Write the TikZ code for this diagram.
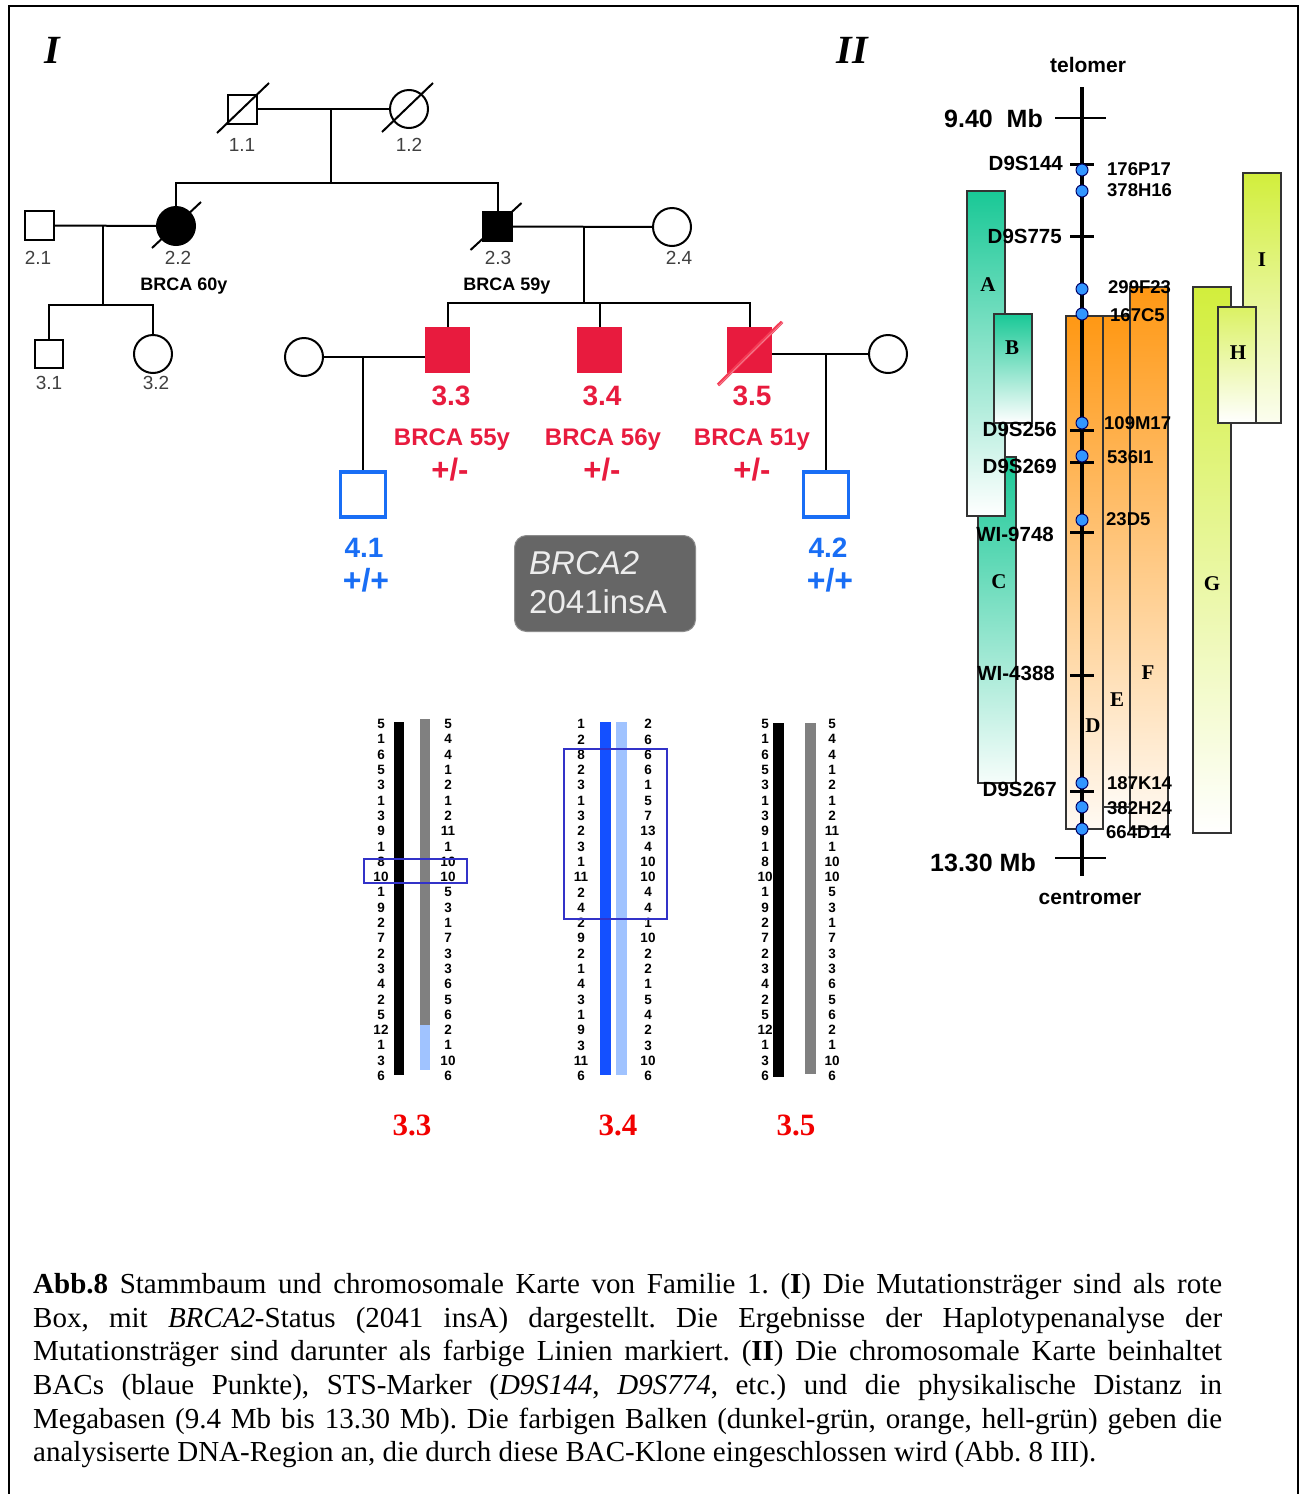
\documentclass[tikz,border=0pt]{standalone}
\usepackage{fontspec}
\setmainfont{Liberation Serif}
\newfontfamily\arial{Liberation Sans}
\usetikzlibrary{calc}
\newcommand\pxs[1]{\fontsize{#1}{#1}\selectfont}
\definecolor{pedred}{RGB}{232,27,62}
\definecolor{slashred}{RGB}{245,60,85}
\definecolor{pedblue}{RGB}{25,110,245}
\definecolor{boxblue}{RGB}{50,50,200}
\definecolor{hapblue}{RGB}{20,80,255}
\definecolor{haplight}{RGB}{160,195,255}
\definecolor{hapgray}{RGB}{128,128,128}
\definecolor{bacteal}{RGB}{25,200,150}
\definecolor{bacorange}{RGB}{255,152,20}
\definecolor{baclime}{RGB}{210,238,60}
\definecolor{dotblue}{RGB}{50,150,255}
\definecolor{mutgray}{RGB}{102,102,102}
\frenchspacing
\begin{document}
\begin{tikzpicture}[x=1pt,y=-1pt,
  male/.style={rectangle,draw,line width=2,minimum size=29,inner sep=0,fill=white},
  female/.style={circle,draw,line width=2,minimum size=38,inner sep=0,fill=white},
  rel/.style={line width=2},
  redsq/.style={rectangle,fill=pedred,minimum width=45,minimum height=46,inner sep=0},
  bluesq/.style={rectangle,draw=pedblue,line width=3.2,fill=white,minimum size=45,inner sep=0},
  idlab/.style={font=\arial\pxs{19},text=black!75,text depth=0pt,inner sep=0},
  agelab/.style={font=\arial\bfseries\pxs{18},text depth=0pt,inner sep=0},
  rednum/.style={font=\arial\bfseries\pxs{28},text=pedred,text depth=0pt,inner sep=0},
  redgen/.style={font=\arial\bfseries\pxs{31},text=pedred,text depth=0pt,inner sep=0},
  redage/.style={font=\arial\bfseries\pxs{24},text=pedred,text depth=0pt,inner sep=0},
  bluenum/.style={font=\arial\bfseries\pxs{28},text=pedblue,text depth=0pt,inner sep=0},
  bluegen/.style={font=\arial\bfseries\pxs{32},text=pedblue,text depth=0pt,inner sep=0},
  hap/.style={font=\arial\bfseries\pxs{13.5},text depth=0pt,inner sep=0},
  hapbox/.style={draw=boxblue,line width=2.5},
  haplab/.style={font=\bfseries\pxs{31},text=red!95!black,text depth=0pt,inner sep=0},
  mk/.style={font=\arial\bfseries\pxs{20.5},text depth=0pt,inner sep=0,anchor=east},
  bac/.style={font=\arial\bfseries\pxs{18.5},text depth=0pt,inner sep=0,anchor=west},
  mb/.style={font=\arial\bfseries\pxs{25},text depth=0pt,inner sep=0,anchor=east},
  endlab/.style={font=\arial\bfseries\pxs{21},text depth=0pt,inner sep=0},
  barlab/.style={font=\bfseries\pxs{21},text depth=0pt,inner sep=0},
  bar/.style={draw=black!80,line width=1.3},
  dot/.style={circle,draw=black!60!blue,line width=1,fill=dotblue,minimum size=12,inner sep=0},
  mtick/.style={line width=3},
  captionline/.style={font=\pxs{29},anchor=base west,inner sep=0},
  roman/.style={font=\bfseries\itshape\pxs{40},inner sep=0,text depth=0pt}
]
\useasboundingbox (0,0) rectangle (1303,1494);
\fill[white] (0,0) rectangle (1303,1494);
\draw[line width=2] (9,1494) -- (9,6) -- (1298,6) -- (1298,1494);

\node[roman] (romI) at (52,50) {I};
\node[roman] (romII) at (852,50) {II};

% ---------------- pedigree ----------------
\node[male] (p11) at (242,109) {};
\node[female] (p12) at (409,109) {};
\draw[rel] (p11) -- (p12);
\coordinate (m1) at (331,109);
\coordinate (s1) at (331,183);
\node[male] (p21) at (39.5,225.5) {};
\node[female,fill=black] (p22) at (176,226) {};
\node[male,fill=black] (p23) at (497.5,226.5) {};
\node[female] (p24) at (672,227) {};
\draw[rel] (m1) -- (s1);
\draw[rel] (p22.north) |- (s1) -| (p23.north);
\draw[rel] (p21) -- (p22);
\draw[rel] (p23) -- (p24);
\coordinate (m2) at (103,226);
\coordinate (s2) at (103,305);
\node[male,minimum size=28] (p31) at (49,354) {};
\node[female] (p32) at (153,354) {};
\draw[rel] (m2) -- (s2);
\draw[rel] (p31.north) |- (s2) -| (p32.north);
\coordinate (m3) at (584,227);
\coordinate (s3) at (584,303);
\node[redsq] (p33) at (447.5,350) {};
\node[redsq] (p34) at (599.5,350) {};
\node[redsq] (p35) at (749.5,350) {};
\draw[rel] (m3) -- (s3);
\draw[rel] (p33.north) |- (s3) -| (p35.north);
\draw[rel] (p34.north) -- (p34.north |- s3);
\node[female] (pw1) at (304,357) {};
\node[female] (pw2) at (888,354) {};
\draw[rel] (pw1.east) -- (pw1.east -| p33.west);
\draw[rel] (pw2.west) -- (pw2.west -| p35.east);
\node[bluesq] (p41) at (363,494.5) {};
\node[bluesq] (p42) at (826,494.5) {};
\coordinate (m4) at (363,357);
\coordinate (m5) at (826,354);
\draw[rel] (m4) -- (p41.north);
\draw[rel] (m5) -- (p42.north);
% deceased slashes
\draw[rel] ($(p11)+(-25,24)$) -- ($(p11)+(27,-26)$);
\draw[rel] ($(p12)+(-27,23)$) -- ($(p12)+(24,-26)$);
\draw[rel] ($(p22)+(-24,22)$) -- ($(p22)+(25,-24)$);
\draw[rel] ($(p23)+(-27,23.5)$) -- ($(p23)+(24,-23.5)$);
\draw[line width=3.5,slashred] ($(p35)+(-31.5,35)$) -- ($(p35)+(32.5,-28)$);
\draw[line width=0.8,pedred!55!white] ($(p35)+(-30.5,35)$) -- ($(p35)+(33.5,-28)$);

% labels
\node[idlab] (l11) at (242,145) {1.1};
\node[idlab] (l12) at (409,145) {1.2};
\node[idlab] (l21) at (38,258) {2.1};
\node[idlab] (l22) at (178,258) {2.2};
\node[idlab] (l23) at (498,258) {2.3};
\node[idlab] (l24) at (679,258) {2.4};
\node[idlab] (l31) at (49,383) {3.1};
\node[idlab] (l32) at (156,383) {3.2};
\node[agelab] (a22) at (184,284) {BRCA 60y};
\node[agelab] (a23) at (507,284) {BRCA 59y};
\node[rednum] (l33) at (451,396) {3.3};
\node[redage] (a33) at (452,437) {BRCA 55y};
\node[redgen] (g33) at (450,469) {+/-};
\node[rednum] (l34) at (602,396) {3.4};
\node[redage] (a34) at (603,437) {BRCA 56y};
\node[redgen] (g34) at (602,469) {+/-};
\node[rednum] (l35) at (752,396) {3.5};
\node[redage] (a35) at (752,437) {BRCA 51y};
\node[redgen] (g35) at (752,469) {+/-};
\node[bluenum] (l41) at (364,548) {4.1};
\node[bluegen] (g41) at (366,580) {+/+};
\node[bluenum] (l42) at (828,548) {4.2};
\node[bluegen] (g42) at (830,580) {+/+};

% mutation box
\node[rectangle,rounded corners=12,fill=mutgray,draw=black!45,line width=1,minimum width=181,minimum height=96,inner sep=0] (mut) at (605,583.5) {};
\node[font=\arial\itshape\pxs{33},text=black!60,anchor=west,inner sep=0,text depth=0pt] (mutaS) at (530.5,565) {BRCA2};
\node[font=\arial\itshape\pxs{33},text=white!93!black,anchor=west,inner sep=0,text depth=0pt] (mutA) at (529,563) {BRCA2};
\node[font=\arial\pxs{33},text=black!60,anchor=west,inner sep=0,text depth=0pt] (mutbS) at (530.5,604) {2041insA};
\node[font=\arial\pxs{33},text=white!93!black,anchor=west,inner sep=0,text depth=0pt] (mutB) at (529,602) {2041insA};

% ---------------- haplotypes ----------------
\fill[black] (394,722) rectangle (404,1075);
\fill[hapgray] (420,719) rectangle (430,1025);
\fill[haplight] (420,1025) rectangle (430,1070);
\fill[hapblue] (600,722) rectangle (611,1075);
\fill[haplight] (616,722) rectangle (627,1075);
\fill[black] (773,723) rectangle (784,1077);
\fill[hapgray] (805,723) rectangle (816,1074);

\foreach \v [count=\i] in {5,1,6,5,3,1,3,9,1,8,10,1,9,2,7,2,3,4,2,5,12,1,3,6}
  \node[hap] (h33l\i) at (381,{724+15.3*(\i-1)}) {\v};
\foreach \v [count=\i] in {5,4,4,1,2,1,2,11,1,10,10,5,3,1,7,3,3,6,5,6,2,1,10,6}
  \node[hap] (h33r\i) at (448,{724+15.3*(\i-1)}) {\v};
\foreach \v [count=\i] in {1,2,8,2,3,1,3,2,3,1,11,2,4,2,9,2,1,4,3,1,9,3,11,6}
  \node[hap] (h34l\i) at (581,{724+15.3*(\i-1)}) {\v};
\foreach \v [count=\i] in {2,6,6,6,1,5,7,13,4,10,10,4,4,1,10,2,2,1,5,4,2,3,10,6}
  \node[hap] (h34r\i) at (648,{724+15.3*(\i-1)}) {\v};
\foreach \v [count=\i] in {5,1,6,5,3,1,3,9,1,8,10,1,9,2,7,2,3,4,2,5,12,1,3,6}
  \node[hap] (h35l\i) at (765,{724+15.3*(\i-1)}) {\v};
\foreach \v [count=\i] in {5,4,4,1,2,1,2,11,1,10,10,5,3,1,7,3,3,6,5,6,2,1,10,6}
  \node[hap] (h35r\i) at (832,{724+15.3*(\i-1)}) {\v};

\draw[hapbox] (364,859) rectangle (467,883);
\draw[hapbox] (564,749) rectangle (667,919);

\node[haplab] (hl33) at (412,1125) {3.3};
\node[haplab] (hl34) at (618,1125) {3.4};
\node[haplab] (hl35) at (796,1125) {3.5};

% ---------------- chromosome map ----------------
\draw[bar,top color=bacteal,bottom color=bacteal!4] (978,457) rectangle (1016,783);
\draw[bar,top color=bacteal,bottom color=white] (967,191) rectangle (1005,516);
\draw[bar,top color=bacteal,bottom color=white] (994,314) rectangle (1032,423);
\draw[bar,top color=bacorange,bottom color=bacorange!5] (1066,316) rectangle (1103,829);
\draw[bar,top color=bacorange,bottom color=bacorange!5] (1103,316) rectangle (1130,807);
\draw[bar,top color=bacorange,bottom color=bacorange!5] (1130,287) rectangle (1168,829);
\draw[bar,top color=baclime,bottom color=white] (1193,287) rectangle (1231,833);
\draw[bar,top color=baclime,bottom color=baclime!8] (1243,173) rectangle (1281,423);
\draw[bar,top color=baclime!80,bottom color=white] (1218,307) rectangle (1256,423);

\node[barlab] (bA) at (988,285) {A};
\node[barlab] (bB) at (1012,348) {B};
\node[barlab] (bC) at (999,582) {C};
\node[barlab] (bD) at (1093,726) {D};
\node[barlab] (bE) at (1117,700) {E};
\node[barlab] (bF) at (1148,673) {F};
\node[barlab] (bG) at (1212,584) {G};
\node[barlab] (bH) at (1238,353) {H};
\node[barlab] (bI) at (1262,260) {I};

\coordinate (tel) at (1082,87);
\coordinate (cen) at (1082,876);
\draw[line width=3.5] (tel) -- (cen);
\draw[line width=1.5] (1055,118) -- (1106,118);
\draw[line width=1.5] (1055,858) -- (1106,858);
\node[endlab] (ltel) at (1088,65) {telomer};
\node[endlab] (lcen) at (1090,898) {centromer};
\node[mb] (mbtop) at (1043,118) {9.40~~Mb};
\node[mb] (mbbot) at (1036,862) {13.30 Mb};

\foreach \y in {164,236,430,462,532,675,791}
  \draw[mtick] (1070,\y) -- (1094,\y);
\node[mk] (k1) at (1063,163) {D9S144};
\node[mk] (k2) at (1062,236) {D9S775};
\node[mk] (k3) at (1057,429) {D9S256};
\node[mk] (k4) at (1057,466) {D9S269};
\node[mk] (k5) at (1054,534) {WI-9748};
\node[mk] (k6) at (1055,673) {WI-4388};
\node[mk] (k7) at (1057,789) {D9S267};

\foreach \y [count=\i] in {170,191,289,314,423,456,520,783,807,829}
  \node[dot] (d\i) at (1082,\y) {};
\node[bac] (c1) at (1107,169) {176P17};
\node[bac] (c2) at (1107,190) {378H16};
\node[bac] (c3) at (1108,287) {299F23};
\node[bac] (c4) at (1110,315) {167C5};
\node[bac] (c5) at (1104,423) {109M17};
\node[bac] (c6) at (1107,457) {536I1};
\node[bac] (c7) at (1106,519) {23D5};
\node[bac] (c8) at (1107,783) {187K14};
\node[bac] (c9) at (1107,808) {382H24};
\node[bac] (c10) at (1106,832) {664D14};

% ---------------- caption ----------------
\node[captionline] (cap1) at (33,1293) {\makebox[1189pt][s]{\textbf{Abb.8} Stammbaum und chromosomale Karte von Familie 1. (\textbf{I}) Die Mutationsträger sind als rote}};
\node[captionline] (cap2) at (33,1327) {\makebox[1189pt][s]{Box, mit \textit{BRCA2}-Status (2041 insA) dargestellt. Die Ergebnisse der Haplotypenanalyse der}};
\node[captionline] (cap3) at (33,1360.5) {\makebox[1189pt][s]{Mutationsträger sind darunter als farbige Linien markiert. (\textbf{II}) Die chromosomale Karte beinhaltet}};
\node[captionline] (cap4) at (33,1394) {\makebox[1189pt][s]{BACs (blaue Punkte), STS-Marker (\textit{D9S144}, \textit{D9S774}, etc.) und die physikalische Distanz in}};
\node[captionline] (cap5) at (33,1428) {\makebox[1189pt][s]{Megabasen (9.4 Mb bis 13.30 Mb). Die farbigen Balken (dunkel-grün, orange, hell-grün) geben die}};
\node[captionline] (cap6) at (33,1461) {analysiserte DNA-Region an, die durch diese BAC-Klone eingeschlossen wird (Abb. 8 III).};
\end{tikzpicture}
\end{document}
